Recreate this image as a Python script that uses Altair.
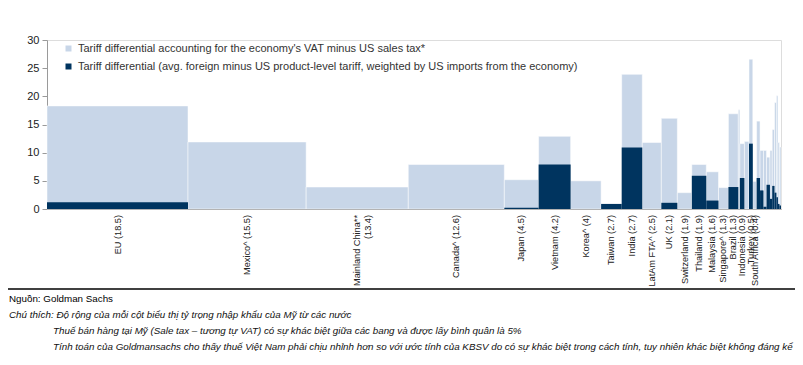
import altair as alt
import pandas as pd

# ---- data ----
labels = ["EU (18.5)", "Mexico^ (15.5)", "Mainland China**|(13.4)", "Canada^ (12.6)",
          "Japan (4.5)", "Vietnam (4.2)", "Korea^ (4)", "Taiwan (2.7)", "India (2.7)",
          "LatAm FTA^ (2.5)", "UK (2.1)", "Switzerland (1.9)", "Thailand (1.9)",
          "Malaysia (1.6)", "Singapore^ (1.3)", "Brazil (1.3)", "", "Indonesia (0.9)", "",
          "Turkey (0.5)", "South Africa (0.4)", "", "", "", "", "", "", "", "", "", ""]
shares = [18.5, 15.5, 13.4, 12.6, 4.5, 4.2, 4.0, 2.7, 2.7, 2.5, 2.1, 1.9, 1.9, 1.6, 1.3, 1.3,
          0.2, 0.6, 0.6, 0.5, 0.5, 0.45, 0.45, 0.4, 0.45, 0.3, 0.3, 0.25, 0.2, 0.2, 0.2]
vat_diff = [18.3, 11.9, 3.9, 7.9, 5.2, 12.9, 5.0, 0.9, 23.9, 11.8, 16.1, 2.9, 7.9, 6.6, 3.8, 16.9,
            17.6, 11.6, 12.0, 26.6, 4.9, 15.6, 10.4, 10.4, 9.2, 10.4, 14.1, 18.9, 20.1, 11.8, 11.0]
tariff_diff = [1.2, 0, 0, 0, 0.2, 7.9, 0, 0.9, 10.9, 0, 1.1, 0, 5.9, 1.5, 0, 3.9,
               0, 5.5, 0, 11.6, 0, 5.5, 3.3, 0.4, 4.3, 1.8, 4.1, 2.9, 2.1, 0.9, 0.6]

series_names = ["Tariff differential accounting for the economy's VAT minus US sales tax*",
                "Tariff differential (avg. foreign minus US product-level tariff, weighted by US imports from the economy)"]
y_ticks = [0, 5, 10, 15, 20, 25, 30]

notes_source = "Nguồn: Goldman Sachs"
notes_lines = ["Chú thích: Độ rộng của mỗi cột biểu thị tỷ trọng nhập khẩu của Mỹ từ các nước",
               "Thuế bán hàng tại Mỹ (Sale tax – tương tự VAT) có sự khác biệt giữa các bang và được lấy bình quân là 5%",
               "Tính toán của Goldmansachs cho thấy thuế Việt Nam phải chịu nhỉnh hơn so với ước tính của KBSV do có sự khác biệt trong cách tính, tuy nhiên khác biệt không đáng kể"]

LIGHT = "#c8d6e8"
DARK = "#00345f"
FONT = "Liberation Sans, Arial, sans-serif"

# ---- build tables ----
df = pd.DataFrame({"label": labels, "share": shares, "light": vat_diff, "dark": tariff_diff})
df["x1"] = df["share"].cumsum()
df["x0"] = df["x1"] - df["share"]
df["xc"] = (df["x0"] + df["x1"]) / 2
total = float(df["share"].sum())

long = pd.concat([
    pd.DataFrame({"x0": df.x0, "x1": df.x1, "value": df.light, "series": series_names[0], "base": 0.0}),
    pd.DataFrame({"x0": df.x0, "x1": df.x1, "value": df.dark, "series": series_names[1], "base": 0.0}),
], ignore_index=True)
long = long[long["value"] > 0]

W, H = 734, 169

xenc = alt.X("x0:Q", scale=alt.Scale(domain=[0, total], nice=False, zero=True),
             axis=alt.Axis(labels=False, ticks=False, title=None, grid=False,
                           domainColor="#9a9a9a", domainWidth=1))
yenc = alt.Y("base:Q", scale=alt.Scale(domain=[0, 30], nice=False),
             axis=alt.Axis(values=y_ticks, title=None, grid=False, tickSize=5, labelPadding=3,
                           domainColor="#9a9a9a", tickColor="#9a9a9a", labelFontSize=11,
                           labelColor="#222222", labelFont=FONT))
color = alt.Color("series:N",
                  scale=alt.Scale(domain=series_names, range=[LIGHT, DARK]),
                  legend=alt.Legend(title=None, orient="none", legendX=16, legendY=3,
                                    symbolType="square", symbolSize=36, symbolStrokeWidth=0,
                                    labelFontSize=11, labelFont=FONT, labelColor="#333333",
                                    labelLimit=700, rowPadding=6, padding=0, labelOffset=4))

base = alt.Chart(long)
light_bars = base.transform_filter(alt.datum.series == series_names[0]).mark_rect(
    stroke="white", strokeWidth=0.5).encode(x=xenc, x2="x1:Q", y=yenc, y2="value:Q", color=color)
dark_bars = base.transform_filter(alt.datum.series == series_names[1]).mark_rect().encode(
    x=xenc, x2="x1:Q", y=yenc, y2="value:Q", color=color)

lab_df = df[df["label"] != ""][["label", "xc"]]
xlabels = alt.Chart(lab_df).mark_text(angle=270, align="right", baseline="middle", lineBreak="|",
                                       fontSize=9.2, font=FONT, color="#222222").encode(
    x=alt.X("xc:Q"), y=alt.value(H + 6), text="label:N")

rule = alt.Chart(pd.DataFrame({"a": [0]})).mark_rule(color="black", strokeWidth=1.5).encode(
    x=alt.value(-39), x2=alt.value(748), y=alt.value(249))

note_layers = [alt.Chart(pd.DataFrame({"t": [notes_source]})).mark_text(
    align="left", baseline="middle", fontSize=9.8, font=FONT, color="#000000").encode(
    x=alt.value(-38), y=alt.value(259), text="t:N")]
for i, line in enumerate(notes_lines):
    note_layers.append(alt.Chart(pd.DataFrame({"t": [line]})).mark_text(
        align="left", baseline="middle", fontSize=9.8, font=FONT, fontStyle="italic",
        color="#111111").encode(
        x=alt.value(-38 if i == 0 else 6), y=alt.value(275 + 16 * i), text="t:N"))

chart = alt.layer(light_bars, dark_bars, xlabels, rule, *note_layers).properties(
    width=W, height=H,
    padding={"left": 39, "top": 32, "right": 14, "bottom": 148},
    autosize=alt.AutoSizeParams(type="none"),
).configure_view(stroke=None).configure(background="white")

chart.save("out.html", embed_options={"renderer": "svg", "actions": False})
